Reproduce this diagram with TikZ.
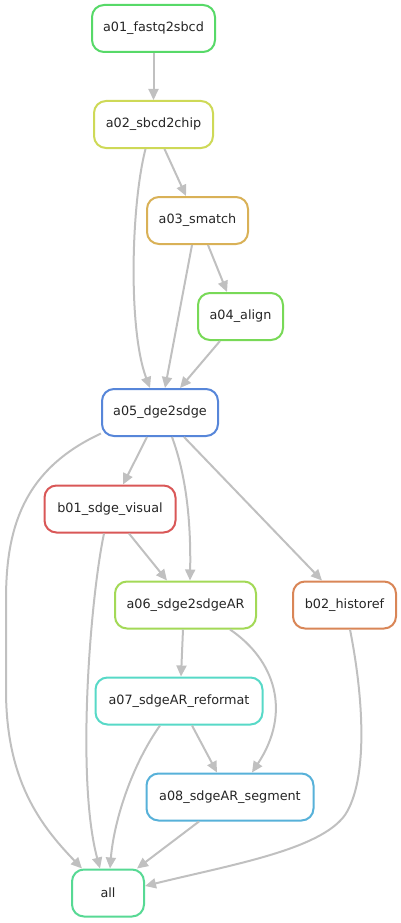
\documentclass[tikz,border=0pt]{standalone}
\usepackage{fontspec}
\setmainfont{DejaVu Sans}
\usetikzlibrary{arrows.meta,calc}
\definecolor{edgegray}{RGB}{192,192,192}
\definecolor{cA}{RGB}{87,217,104}
\definecolor{cB}{RGB}{206,217,87}
\definecolor{cC}{RGB}{217,177,87}
\definecolor{cD}{RGB}{120,217,87}
\definecolor{cE}{RGB}{87,134,217}
\definecolor{cF}{RGB}{217,87,87}
\definecolor{cG}{RGB}{163,217,87}
\definecolor{cH}{RGB}{217,134,87}
\definecolor{cI}{RGB}{87,217,199}
\definecolor{cJ}{RGB}{87,177,217}
\definecolor{cK}{RGB}{87,217,148}
\tikzset{
  rulebox/.style={draw=#1, line width=2pt, rounded corners=12pt, fill=white,
    minimum height=47pt, inner sep=0pt, font=\fontsize{12.8}{14}\selectfont, text=black!85},
  edge/.style={draw=edgegray, line width=2pt, -{Triangle[length=11pt,width=10pt]}}
}
\begin{document}
\begin{tikzpicture}[x=1pt,y=-1pt]
\useasboundingbox (0,0) rectangle (401,923);
\node[rulebox=cA, minimum width=123pt] (a01) at (153.5,28.5) {a01\_fastq2sbcd};
\node[rulebox=cB, minimum width=119pt] (a02) at (153.5,124.5) {a02\_sbcd2chip};
\node[rulebox=cC, minimum width=101pt] (a03) at (197.5,220.5) {a03\_smatch};
\node[rulebox=cD, minimum width=85pt] (a04) at (240.5,316.5) {a04\_align};
\node[rulebox=cE, minimum width=116pt] (a05) at (160,412.5) {a05\_dge2sdge};
\node[rulebox=cF, minimum width=131pt] (b01) at (110,509) {b01\_sdge\_visual};
\node[rulebox=cG, minimum width=141pt] (a06) at (185.5,605) {a06\_sdge2sdgeAR};
\node[rulebox=cH, minimum width=103pt] (b02) at (344.5,605) {b02\_historef};
\node[rulebox=cI, minimum width=167pt] (a07) at (179,701) {a07\_sdgeAR\_reformat};
\node[rulebox=cJ, minimum width=167pt] (a08) at (230,797) {a08\_sdgeAR\_segment};
\node[rulebox=cK, minimum width=72pt] (all) at (108,893) {all};

\path[edge] (a01.south) -- (a02.north);
\path[edge] ($(a02.south)+(11,0)$) -- ($(a03.north)+(-11.5,0)$);
\path[edge] ($(a02.south)+(-8,0)$) .. controls (131,205) and (128,330) .. ($(a05.north)+(-10,0)$);
\path[edge] ($(a03.south)+(-5.5,0)$) -- ($(a05.north)+(5,0)$);
\path[edge] ($(a03.south)+(10.5,0)$) -- ($(a04.north)+(-13.5,0)$);
\path[edge] ($(a04.south)+(-20.5,0)$) -- ($(a05.north)+(20,0)$);
\path[edge] ($(a05.west)+(0,21)$) .. controls (22,470) and (6,530) .. (6,600)
   -- (6,690) .. controls (6,780) and (40,825) .. ($(all.north)+(-26,0)$);
\path[edge] ($(a05.south)+(-13,0)$) -- ($(b01.north)+(13,0)$);
\path[edge] ($(a05.south)+(12,0)$) .. controls (186,475) and (191,520) .. ($(a06.north)+(4.5,0)$);
\path[edge] ($(a05.south)+(24,0)$) -- ($(b02.north)+(-22.5,0)$);
\path[edge] ($(b01.south)+(19,0)$) -- ($(a06.north)+(-18.5,0)$);
\path[edge] ($(b01.south)+(-6,0)$) .. controls (90,600) and (76,780) .. ($(all.north)+(-8,0)$);
\path[edge] ($(a06.south)+(-2.5,0)$) -- ($(a07.north)+(2,0)$);
\path[edge] ($(a06.south)+(44.5,0)$) .. controls (275,660) and (292,712) .. ($(a08.north)+(22,0)$);
\path[edge] ($(b02.south)+(5.5,0)$) .. controls (364,700) and (368,780) .. (345,815)
   .. controls (320,850) and (230,865) .. ($(all.east)+(0,-7)$);
\path[edge] ($(a07.south)+(13,0)$) -- ($(a08.north)+(-13,0)$);
\path[edge] ($(a07.south)+(-19,0)$) .. controls (132,765) and (114,820) .. ($(all.north)+(2,0)$);
\path[edge] ($(a08.south)+(-31,0)$) -- ($(all.north)+(29,0)$);
\end{tikzpicture}
\end{document}
